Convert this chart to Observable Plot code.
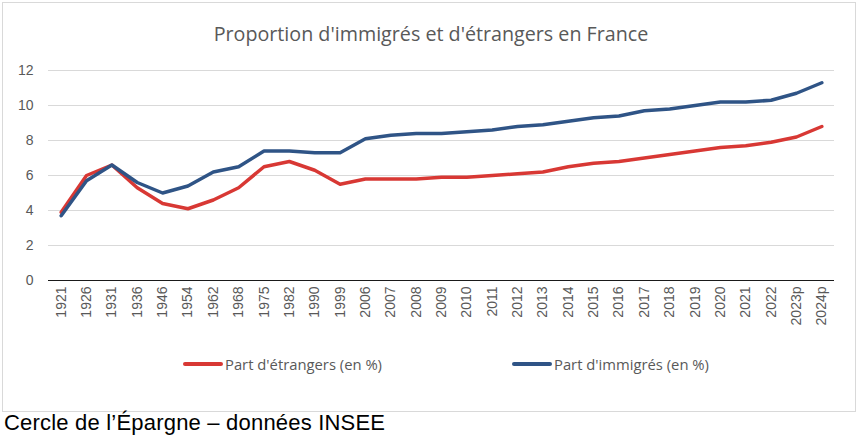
<!DOCTYPE html>
<html>
<head>
<meta charset="utf-8">
<script src="https://cdn.jsdelivr.net/npm/d3@7"></script>
<script src="https://cdn.jsdelivr.net/npm/@observablehq/plot@0.6"></script>
<style>
  body { margin: 0; background: #fff; }
  #wrap { position: relative; width: 862px; height: 440px; overflow: hidden; font-family: "Liberation Sans", Arial, sans-serif; }
  #frame { position: absolute; left: 2px; top: 2px; width: 854px; height: 410px; border: 1px solid #d9d9d9; box-sizing: border-box; }
  #title { position: absolute; top: 20px; left: 0; width: 862px; text-align: center; font-family: "Open Sans", sans-serif; font-size: 19.7px; color: #595959; }
  #chart { position: absolute; left: 0; top: 50px; }
  #legend { position: absolute; top: 354px; left: 0; width: 862px; font-family: "Open Sans", sans-serif; font-size: 14.8px; color: #595959; }
  .item { position: absolute; display: flex; align-items: center; }
  .sw { width: 40px; height: 4px; border-radius: 2px; margin-right: 2px; }
  #caption { position: absolute; left: 4px; top: 410px; font-family: "Liberation Sans", Arial, sans-serif; font-size: 22px; color: #000; letter-spacing: 0.2px; }
</style>
</head>
<body>
<div id="wrap">
  <div id="frame"></div>
  <div id="title">Proportion d'immigrés et d'étrangers en France</div>
  <div id="chart"></div>
  <div id="legend"></div>
  <div id="caption">Cercle de l’Épargne – données INSEE</div>
</div>
<script>
const years = ["1921","1926","1931","1936","1946","1954","1962","1968","1975","1982","1990","1999","2006","2007","2008","2009","2010","2011","2012","2013","2014","2015","2016","2017","2018","2019","2020","2021","2022","2023p","2024p"];
const etrangers = [3.9,6.0,6.6,5.3,4.4,4.1,4.6,5.3,6.5,6.8,6.3,5.5,5.8,5.8,5.8,5.9,5.9,6.0,6.1,6.2,6.5,6.7,6.8,7.0,7.2,7.4,7.6,7.7,7.9,8.2,8.8];
const immigres = [3.7,5.7,6.6,5.6,5.0,5.4,6.2,6.5,7.4,7.4,7.3,7.3,8.1,8.3,8.4,8.4,8.5,8.6,8.8,8.9,9.1,9.3,9.4,9.7,9.8,10.0,10.2,10.2,10.3,10.7,11.3];
const seriesNames = ["Part d'étrangers (en %)", "Part d'immigrés (en %)"];
const seriesColors = ["#d83834", "#2f5486"];
const yTicks = [0,2,4,6,8,10,12];

const data = [];
years.forEach((y, i) => {
  data.push({year: y, value: etrangers[i], series: seriesNames[0]});
  data.push({year: y, value: immigres[i], series: seriesNames[1]});
});

const chart = Plot.plot({
  width: 862,
  height: 300,
  marginLeft: 48,
  marginRight: 28,
  marginTop: 20,
  marginBottom: 70,
  style: { fontFamily: "Liberation Sans, Arial, sans-serif", fontSize: "14px", color: "#595959", background: "transparent" },
  x: { type: "point", domain: years, padding: 0.5, round: false, label: null },
  y: { domain: [0, 12], label: null },
  color: { domain: seriesNames, range: seriesColors },
  marks: [
    Plot.ruleY(yTicks.filter(d => d > 0), { stroke: "#d9d9d9", strokeWidth: 1.2 }),
    Plot.axisY({ ticks: yTicks, tickSize: 0, tickPadding: 15, fontSize: 14, label: null }),
    Plot.axisX({ tickSize: 0, tickRotate: -90, tickPadding: 6, fontSize: 14, label: null }),
    Plot.ruleY([0], { stroke: "#1a1a1a", strokeWidth: 1.2 }),
    Plot.line(data, { x: "year", y: "value", z: "series", stroke: "series", strokeWidth: 3.5, strokeLinejoin: "round", strokeLinecap: "round" })
  ]
});
document.getElementById("chart").appendChild(chart);

const legend = document.getElementById("legend");
const lefts = [183, 512];
seriesNames.forEach((n, i) => {
  const it = document.createElement("div");
  it.className = "item";
  it.style.left = lefts[i] + "px";
  it.innerHTML = `<span class="sw" style="background:${seriesColors[i]}"></span><span>${n}</span>`;
  legend.appendChild(it);
});
</script>
</body>
</html>
